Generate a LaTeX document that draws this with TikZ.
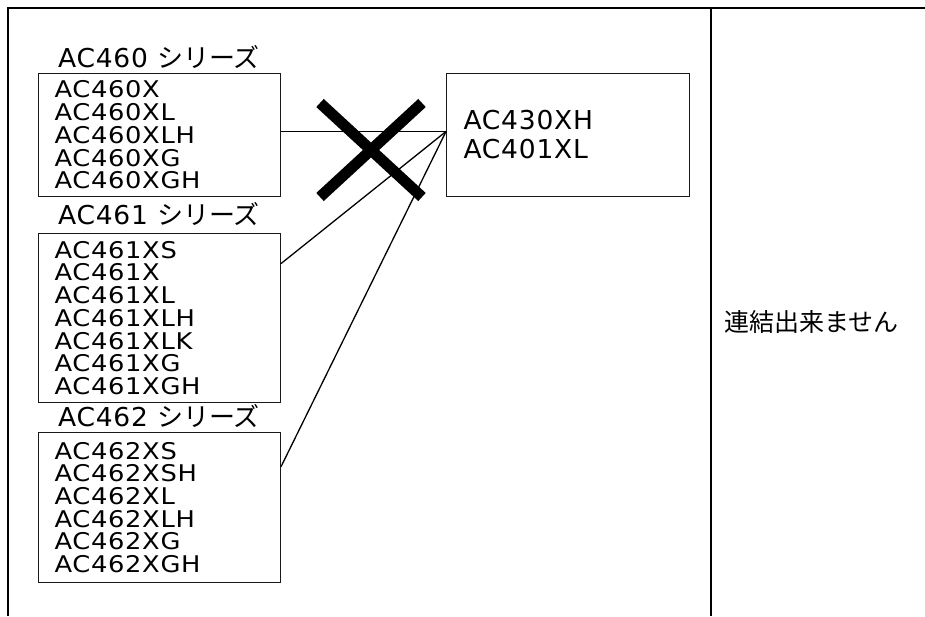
\documentclass[tikz,border=0pt]{standalone}
\usepackage{fontspec}
\setmainfont{DejaVu Sans}[LetterSpace=3,FakeStretch=1.12]
\newfontfamily\jp{Noto Sans CJK JP}
\usetikzlibrary{calc}

\tikzset{
  listbox/.style={draw=black!90, line width=1pt, anchor=north west, align=left,
    text width=210pt, inner xsep=16pt, inner ysep=0pt, minimum height=123pt,
    font=\fontsize{23}{22.7}\selectfont},
  series/.style={anchor=base,
    font=\fontsize{26}{28}\selectfont\addfontfeatures{FakeStretch=1.02}},
  link/.style={line width=1.3pt},
}

\begin{document}
\begin{tikzpicture}[x=1pt,y=-1pt]
    \useasboundingbox (0,0) rectangle (925,616);
    % frame
    \begin{scope}[line width=1.5pt]
    \draw (925,8) -- (8,8) -- (8,616);
    \draw (711,8) -- (711,616);
    \end{scope}
    % series boxes
    \node [series] (t460) at (159,67) {AC460 {\jp シリーズ}};
    \node [listbox] (b460) at (38,73)
        {AC460X\\AC460XL\\AC460XLH\\AC460XG\\AC460XGH};
    \node [series] (t461) at (159,224) {AC461 {\jp シリーズ}};
    \node [listbox, minimum height=169pt] (b461) at (38,233)
        {AC461XS\\AC461X\\AC461XL\\AC461XLH\\AC461XLK\\AC461XG\\AC461XGH};
    \node [series] (t462) at (159,426) {AC462 {\jp シリーズ}};
    \node [listbox, minimum height=150pt] (b462) at (38,432)
        {AC462XS\\AC462XSH\\AC462XL\\AC462XLH\\AC462XG\\AC462XGH};
    \node [listbox, text width=209pt, inner xsep=17pt,
           font=\fontsize{26}{29}\selectfont\addfontfeatures{FakeStretch=1.02}] (b430) at (446,73)
        {AC430XH\\AC401XL};
    % connectors
    \coordinate (hub) at ($(b430.west)+(0,-3.5)$);
    \draw [link] (b460.east |- hub) -- (hub);
    \draw [link] ($(b461.north east)!0.18!(b461.south east)$) -- (hub);
    \draw [link] ($(b462.north east)!0.23!(b462.south east)$) -- (hub);
    % cross
    \draw [line width=11pt] (320,103) -- (422,197) (320,197) -- (422,103);
    \node [anchor=west, font=\jp\fontsize{25}{25}\selectfont] (msg) at (721,322)
        {連結出来ません};
\end{tikzpicture}
\end{document}
